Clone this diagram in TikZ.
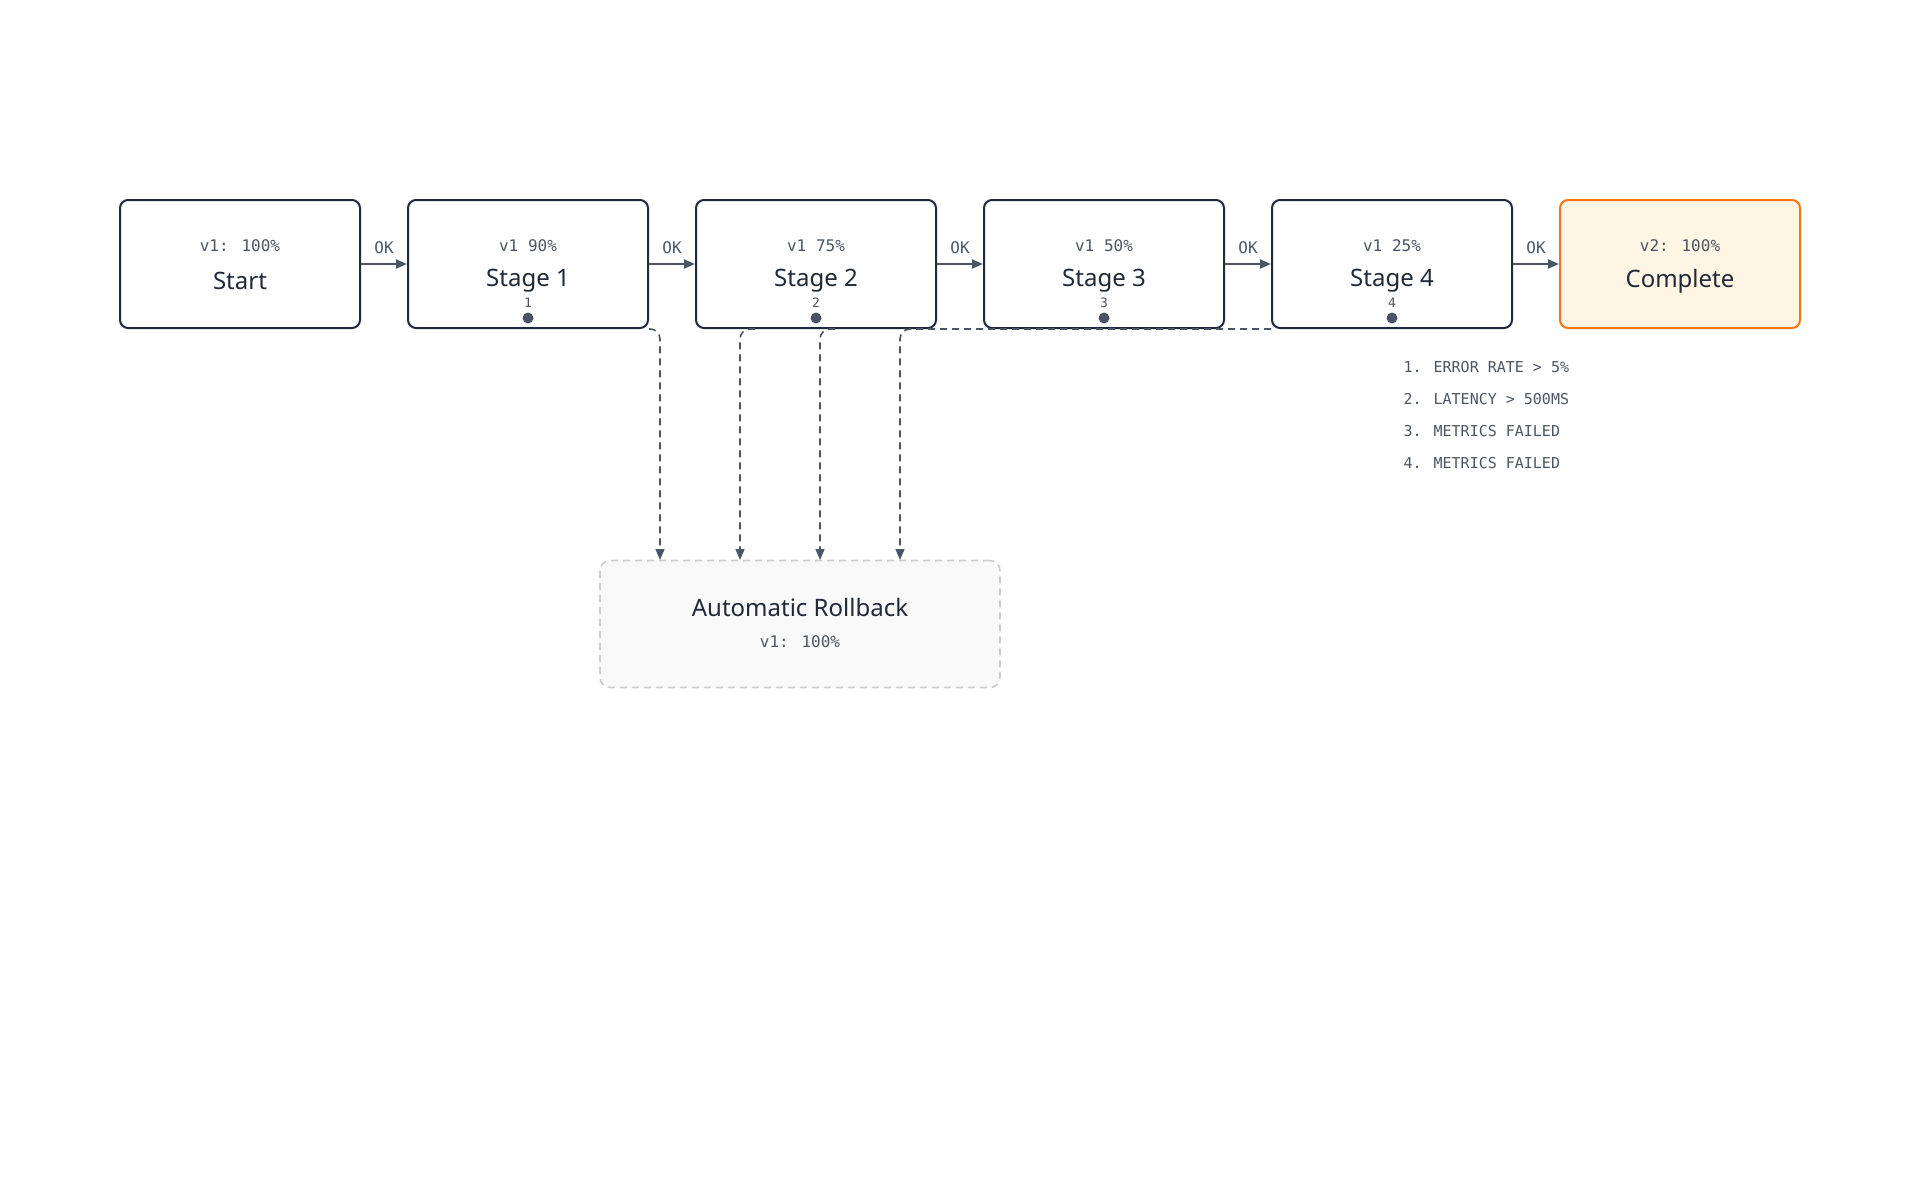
\documentclass[tikz,border=0pt]{standalone}
\usepackage{fontspec}
\setmainfont{Noto Sans}
\newfontfamily\monofont{DejaVu Sans Mono}
\usetikzlibrary{positioning,arrows.meta}
\definecolor{ink}{HTML}{1F2937}
\definecolor{edge}{HTML}{4B5563}
\definecolor{done}{HTML}{F97316}
\definecolor{donebg}{HTML}{FEF5E4}
\tikzset{
  stage/.style={draw=ink, line width=2pt, rounded corners=8pt, minimum width=240pt, minimum height=128pt, fill=white},
  title/.style={font=\fontsize{24}{28}\selectfont\bfseries, text=ink},
  split/.style={font=\monofont\fontsize{16}{20}\selectfont, text=edge},
  ok/.style={->, >={Triangle[length=11pt,width=9pt]}, draw=edge, line width=2pt},
  back/.style={->, >={Triangle[length=11pt,width=9pt]}, draw=edge, line width=1.6pt, dashed, dash pattern=on 7pt off 5pt, rounded corners=10pt},
  note/.style={font=\monofont\fontsize{15}{18}\selectfont, text=edge}
}
\begin{document}
\begin{tikzpicture}[x=1pt,y=-1pt]
\useasboundingbox (0,0) rectangle (1920,1200);
% the stages
\node[stage] (s0) at (240,264) {};
\node[stage] (s1) at (528,264) {};
\node[stage] (s2) at (816,264) {};
\node[stage] (s3) at (1104,264) {};
\node[stage] (s4) at (1392,264) {};
\node[stage, draw=done, fill=donebg] (s5) at (1680,264) {};
\foreach \n/\t/\s in {s0/Start/v1: 100\%, s1/Stage 1/v1 90\% / v2 10\%, s2/Stage 2/v1 75\% / v2 25\%, s3/Stage 3/v1 50\% / v2 50\%, s4/Stage 4/v1 25\% / v2 75\%, s5/Complete/v2: 100\%}{
  \node[title] (\n t) at ([yshift=-17pt]\n.center) {\t};
  \node[split] (\n s) at ([yshift=18pt]\n.center) {\s};
}
% forward arrows
\foreach \a/\b in {s0/s1, s1/s2, s2/s3, s3/s4, s4/s5}{
  \draw[ok] (\a.east) -- node[split, above=6pt] {OK} (\b.west);
}
% rollback box
\node[draw=gray!40, fill=gray!5, line width=1.6pt, dashed, dash pattern=on 7pt off 5pt, rounded corners=10pt, minimum width=400pt, minimum height=127pt] (rb) at (800,624) {};
\node[title] (rbt) at (800,607) {Automatic Rollback};
\node[split] (rbs) at (800,642) {v1: 100\%};
% checkpoints
\foreach \n/\k in {s1/1, s2/2, s3/3, s4/4}{
  \fill[edge] ([yshift=11pt]\n.south) circle (5.5pt) coordinate (d\k);
  \node[split, font=\monofont\fontsize{13}{15}\selectfont] (l\k) at ([yshift=26pt]\n.south) {\k};
}
% rollback paths
\coordinate (r1) at (660,560);
\coordinate (r2) at (740,560);
\coordinate (r3) at (820,560);
\coordinate (r4) at (900,560);
\draw[back] (s1.south east) -| (r1);
\draw[back] ([xshift=60pt]s2.south west) -| (r2);
\draw[back] ([xshift=140pt]s2.south west) -| (r3);
\draw[back] (s4.south west) -| (r4);
% legend
\node[note, anchor=west] (n1) at (1400,367) {1. ERROR RATE > 5\%};
\node[note, anchor=west] (n2) at (1400,399) {2. LATENCY > 500MS};
\node[note, anchor=west] (n3) at (1400,431) {3. METRICS FAILED};
\node[note, anchor=west] (n4) at (1400,463) {4. METRICS FAILED};
\end{tikzpicture}
\end{document}
